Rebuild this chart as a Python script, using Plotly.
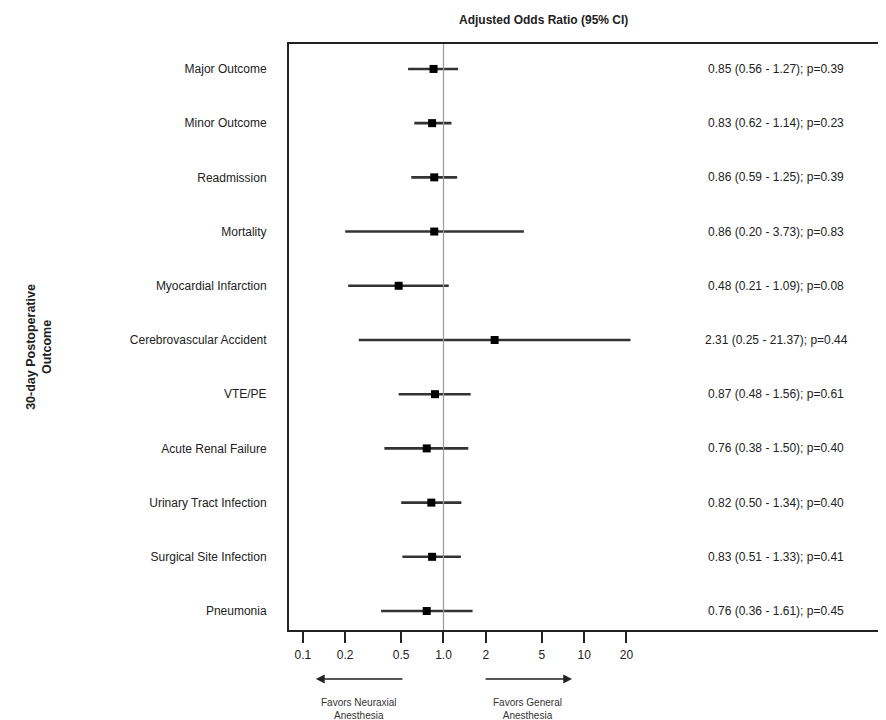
import plotly.graph_objects as go

outcomes = ["Major Outcome", "Minor Outcome", "Readmission", "Mortality",
            "Myocardial Infarction", "Cerebrovascular Accident", "VTE/PE",
            "Acute Renal Failure", "Urinary Tract Infection",
            "Surgical Site Infection", "Pneumonia"]
odds_ratio = [0.85, 0.83, 0.86, 0.86, 0.48, 2.31, 0.87, 0.76, 0.82, 0.83, 0.76]
ci_low = [0.56, 0.62, 0.59, 0.20, 0.21, 0.25, 0.48, 0.38, 0.50, 0.51, 0.36]
ci_high = [1.27, 1.14, 1.25, 3.73, 1.09, 21.37, 1.56, 1.50, 1.34, 1.33, 1.61]
p_values = [0.39, 0.23, 0.39, 0.83, 0.08, 0.44, 0.61, 0.40, 0.40, 0.41, 0.45]

tick_vals = [0.1, 0.2, 0.5, 1.0, 2, 5, 10, 20]
tick_text = ["0.1", "0.2", "0.5", "1.0", "2", "5", "10", "20"]
ref_value = 1.0

FONT = "Liberation Sans, Arial, sans-serif"
TXT = "#222222"

y_range = [10.35, -0.46]

fig = go.Figure()

# reference line at OR = 1
fig.add_trace(go.Scatter(
    x=[ref_value, ref_value], y=[y_range[0], y_range[1]],
    mode="lines", line=dict(color="#9a9a9a", width=1.2),
    hoverinfo="skip", showlegend=False, yaxis="y2"))

fig.add_trace(go.Scatter(
    x=odds_ratio, y=outcomes, mode="markers",
    marker=dict(symbol="square", size=8, color="black"),
    error_x=dict(type="data", symmetric=False,
                 array=[h - o for h, o in zip(ci_high, odds_ratio)],
                 arrayminus=[o - l for o, l in zip(odds_ratio, ci_low)],
                 color="#333333", thickness=2.6, width=0),
    showlegend=False))

annotations = []
for name, o, l, h, p in zip(outcomes, odds_ratio, ci_low, ci_high, p_values):
    annotations.append(dict(
        x=0.822, xref="paper", y=name, yref="y", xanchor="center",
        text=f"{o:.2f} ({l:.2f} - {h:.2f}); p={p:.2f}", showarrow=False,
        font=dict(size=12, color=TXT, family=FONT)))

H = 586.0
W = 595.0
# title
annotations.append(dict(x=(542 - 287) / W, xref="paper", y=1 + (42 - 18) / H,
                        yref="paper", xanchor="center", yanchor="middle",
                        text="<b>Adjusted Odds Ratio (95% CI)</b>",
                        showarrow=False, font=dict(size=12, color=TXT, family=FONT)))
# y title
annotations.append(dict(x=(36 - 287) / W, xref="paper", y=1 - (345 - 42) / H,
                        yref="paper", textangle=-90, xanchor="center", yanchor="middle",
                        text="<b>30-day Postoperative<br>Outcome</b>",
                        showarrow=False, font=dict(size=12.5, color=TXT, family=FONT)))
# arrows
arrow_y = -(677 - 628) / H
annotations.append(dict(x=(314 - 287) / W, y=arrow_y, xref="paper", yref="paper",
                        text="", showarrow=True, ax=88, ay=0, arrowhead=2,
                        arrowsize=1.1, arrowwidth=1.6, arrowcolor="#222"))
annotations.append(dict(x=(571 - 287) / W, y=arrow_y, xref="paper", yref="paper",
                        text="", showarrow=True, ax=-88, ay=0, arrowhead=2,
                        arrowsize=1.1, arrowwidth=1.6, arrowcolor="#222"))
label_y = -(707 - 628) / H
annotations.append(dict(x=(357 - 287) / W, y=label_y, xref="paper", yref="paper",
                        xanchor="center", yanchor="middle",
                        text="Favors Neuraxial<br>Anesthesia", showarrow=False,
                        font=dict(size=10, color="#333", family=FONT)))
annotations.append(dict(x=(526 - 287) / W, y=label_y, xref="paper", yref="paper",
                        xanchor="center", yanchor="middle",
                        text="Favors General<br>Anesthesia", showarrow=False,
                        font=dict(size=10, color="#333", family=FONT)))

fig.update_layout(
    width=886, height=720,
    margin=dict(l=281, r=10, t=36, b=98),
    paper_bgcolor="white", plot_bgcolor="white",
    font=dict(family=FONT, color=TXT, size=12),
    xaxis=dict(type="log", range=[-1.0985, 3.118],
               tickvals=tick_vals, ticktext=tick_text,
               ticks="outside", ticklen=11, tickwidth=1.6, tickcolor="#222",
               ticklabelstandoff=2,
               showgrid=False, zeroline=False,
               showline=True, mirror=True, linecolor="#222", linewidth=2,
               tickfont=dict(size=12, color=TXT)),
    yaxis=dict(type="category", categoryorder="array", categoryarray=outcomes,
               range=y_range, showgrid=False, zeroline=False,
               showline=True, mirror=True, linecolor="#222", linewidth=2,
               ticks="", ticklabelstandoff=18, tickfont=dict(size=12, color=TXT)),
    yaxis2=dict(overlaying="y", range=y_range, visible=False),
    annotations=annotations,
)

fig.write_html("out.html")
